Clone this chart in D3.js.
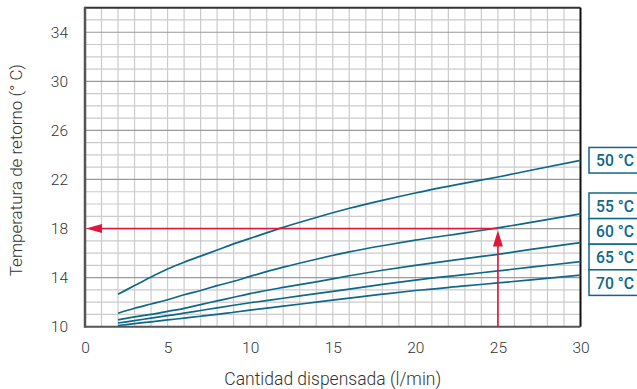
<!DOCTYPE html>
<html><head><meta charset="utf-8">
<script src="https://cdn.jsdelivr.net/npm/d3@7"></script>
<style>
html,body{margin:0;padding:0;background:#fff;}
svg{display:block;font-family:Roboto,"DejaVu Sans",sans-serif;}
</style></head>
<body>
<svg id="chart" width="637" height="389"></svg>
<script>
// ---- data ----
const flow = [2,3,4,5,6,7,8,9,10,12,14,16,18,20,23,25,27,30];
const t50 = [12.65,13.35,14.05,14.7,15.25,15.75,16.25,16.75,17.2,18.1,18.9,19.65,20.3,20.9,21.7,22.2,22.75,23.55];
const t55 = [11.1,11.5,11.85,12.2,12.6,12.95,13.35,13.7,14.1,14.85,15.5,16.1,16.6,17.05,17.65,18.05,18.5,19.2];
const t60 = [10.55,10.8,11.0,11.25,11.5,11.8,12.1,12.4,12.7,13.2,13.65,14.15,14.6,15.0,15.55,15.9,16.3,16.85];
const t65 = [10.3,10.5,10.7,10.9,11.1,11.32,11.54,11.75,11.95,12.32,12.7,13.07,13.45,13.8,14.25,14.55,14.85,15.3];
const t70 = [10.1,10.25,10.4,10.55,10.7,10.85,11.0,11.18,11.35,11.67,12.0,12.33,12.65,12.95,13.32,13.57,13.82,14.2];
const seriesLabels = ["50 °C","55 °C","60 °C","65 °C","70 °C"];
const xTicks = [0,5,10,15,20,25,30];
const yTicks = [10,14,18,22,26,30,34];
const example = {flow: 25, temp: 18};
const xTitle = "Cantidad dispensada (l/min)";
const yTitle = "Temperatura de retorno (° C)";

// ---- layout ----
const svg = d3.select("#chart");
const x = d3.scaleLinear().domain([0,30]).range([85,580.5]);
const y = d3.scaleLinear().domain([10,36]).range([326.7,7.7]);
const blue = "#0f6889", red = "#e0163b", txt = "#333";

// grid
const g = svg.append("g");
g.selectAll("line.vg").data(d3.range(1,30)).join("line")
  .attr("x1",d=>x(d)).attr("x2",d=>x(d)).attr("y1",y(10)).attr("y2",y(36))
  .attr("stroke","#cbcbcb").attr("stroke-width",1.2);
g.selectAll("line.hg").data(d3.range(11,36)).join("line")
  .attr("y1",d=>y(d)).attr("y2",d=>y(d)).attr("x1",x(0)).attr("x2",x(30))
  .attr("stroke",d=>yTicks.includes(d)?"#9a9a9a":"#cbcbcb").attr("stroke-width",1.2);

// frame
svg.append("line").attr("x1",x(0)).attr("x2",x(30)).attr("y1",y(36)).attr("y2",y(36)).attr("stroke","#333").attr("stroke-width",2);
svg.append("line").attr("x1",x(30)).attr("x2",x(30)).attr("y1",y(36)).attr("y2",y(10)).attr("stroke","#111").attr("stroke-width",2);
svg.append("line").attr("x1",x(0)).attr("x2",x(30)).attr("y1",y(10)).attr("y2",y(10)).attr("stroke","#555").attr("stroke-width",2);
svg.append("line").attr("x1",x(0)).attr("x2",x(0)).attr("y1",y(36)-1).attr("y2",y(10)+1).attr("stroke","#555").attr("stroke-width",2.5);

// axes (labels only)
const xAxis = d3.axisBottom(x).tickValues(xTicks).tickSize(0).tickPadding(15);
const xa = svg.append("g").attr("transform",`translate(0,${y(10)})`).call(xAxis);
xa.select(".domain").remove();
xa.selectAll("text").attr("font-size",15.5).attr("font-weight",300).attr("fill",txt).attr("font-family","Roboto");
const yAxis = d3.axisLeft(y).tickValues(yTicks).tickSize(0).tickPadding(17);
const ya = svg.append("g").attr("transform",`translate(${x(0)},0)`).call(yAxis);
ya.select(".domain").remove();
ya.selectAll("text").attr("font-size",15.5).attr("font-weight",300).attr("fill",txt).attr("font-family","Roboto");

svg.append("text").attr("x",(x(0)+x(30))/2).attr("y",385).attr("text-anchor","middle")
  .attr("font-size",17.5).attr("font-weight",300).attr("fill",txt).text(xTitle);
svg.append("text").attr("transform",`translate(22,${(y(10)+y(36))/2+3}) rotate(-90)`).attr("text-anchor","middle")
  .attr("font-size",17).attr("font-weight",300).attr("fill",txt).text(yTitle);

// curves
const allSeries = [t50,t55,t60,t65,t70];
const line = d3.line().x((d,i)=>x(flow[i])).y(d=>y(d)).curve(d3.curveMonotoneX);
svg.selectAll("path.curve").data(allSeries).join("path")
  .attr("d",line).attr("fill","none").attr("stroke",blue).attr("stroke-width",1.7);

// example arrows
svg.append("line").attr("x1",x(example.flow)).attr("x2",x(0)+14).attr("y1",y(example.temp)).attr("y2",y(example.temp))
  .attr("stroke",red).attr("stroke-width",1.6);
svg.append("path").attr("d",`M${x(0)+1},${y(example.temp)} l16,-4.5 l0,9 Z`).attr("fill",red);
svg.append("line").attr("x1",x(example.flow)).attr("x2",x(example.flow)).attr("y1",y(10)).attr("y2",y(example.temp)+10)
  .attr("stroke",red).attr("stroke-width",1.6);
svg.append("path").attr("d",`M${x(example.flow)},${y(example.temp)+2} l-5,16 l10,0 Z`).attr("fill",red);

// labels
const boxX = 589, boxH = 25.6;
const firstY = y(t50[t50.length-1]) - 13;
const groupTop = 193;
const boxes = seriesLabels.map((s,i)=>({s, top: i===0 ? firstY : groupTop + (i-1)*boxH}));
const lb = svg.selectAll("g.lab").data(boxes).join("g");
lb.append("rect").attr("x",boxX).attr("y",d=>d.top).attr("width",60).attr("height",boxH)
  .attr("fill","#fff").attr("stroke",blue).attr("stroke-width",1.5);
lb.append("text").attr("x",boxX+7).attr("y",d=>d.top+boxH/2+6).attr("font-size",17).attr("font-weight",500)
  .attr("fill",blue).attr("textLength",38).attr("lengthAdjust","spacingAndGlyphs").text(d=>d.s);
</script>
</body></html>
